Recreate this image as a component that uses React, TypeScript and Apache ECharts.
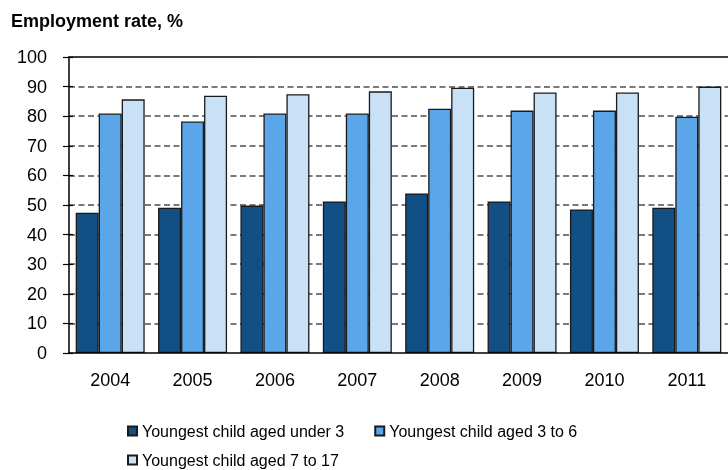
import React, { useEffect, useRef } from "react";
import * as echarts from "echarts";

const years = ["2004", "2005", "2006", "2007", "2008", "2009", "2010", "2011"];
const under3 = [47.4, 49.1, 49.8, 51.2, 53.9, 51.2, 48.5, 49.1];
const aged3to6 = [80.9, 78.2, 80.9, 80.9, 82.5, 81.9, 81.9, 79.8];
const aged7to17 = [85.7, 86.9, 87.4, 88.4, 89.6, 88.0, 88.0, 90.0];
const seriesNames = [
  "Youngest child aged under 3",
  "Youngest child aged 3 to 6",
  "Youngest child aged 7 to 17",
];
const colors = ["#124f85", "#5ba6e8", "#c9e1f7"];

export default function App() {
  const ref = useRef<HTMLDivElement>(null);
  useEffect(() => {
    document.body.style.margin = "0";
    const chart = echarts.init(ref.current!, null, { renderer: "svg" });
    const font = "'Liberation Sans', Arial, sans-serif";
    const values = [under3, aged3to6, aged7to17];
    const gridColors = [
      "rgba(0,0,0,0)",
      "#7a7a7a", "#7a7a7a", "#7a7a7a", "#7a7a7a", "#7a7a7a",
      "#7a7a7a", "#7a7a7a", "#7a7a7a", "#7a7a7a",
      "rgba(0,0,0,0)",
    ];
    chart.setOption({
      animation: false,
      textStyle: { fontFamily: font },
      title: {
        text: "Employment rate, %",
        left: 11,
        top: 12,
        padding: 0,
        textStyle: { fontSize: 18, fontWeight: "bold", color: "#000", fontFamily: font },
      },
      legend: [
        {
          data: [seriesNames[0], seriesNames[1]],
          left: 127,
          top: 423,
          padding: 0,
          itemWidth: 9,
          itemHeight: 9,
          itemGap: 30,
          icon: "rect",
          textStyle: { fontSize: 16, color: "#000", fontFamily: font },
        },
        {
          data: [seriesNames[2]],
          left: 127,
          top: 452,
          padding: 0,
          itemWidth: 9,
          itemHeight: 9,
          icon: "rect",
          textStyle: { fontSize: 16, color: "#000", fontFamily: font },
        },
      ],
      grid: { left: 69, top: 57, width: 662, height: 296 },
      xAxis: [
        {
          type: "category",
          data: years,
          z: 5,
          axisLine: { lineStyle: { color: "#000", width: 1.5 } },
          axisTick: { show: false },
          axisLabel: { fontSize: 18, color: "#000", margin: 18, fontFamily: font },
        },
        {
          type: "category",
          data: years,
          position: "top",
          z: 5,
          axisLine: { show: true, onZero: false, lineStyle: { color: "#000", width: 1.5 } },
          axisTick: { show: false },
          axisLabel: { show: false },
        },
      ],
      yAxis: [
        {
          type: "value",
          min: 0,
          max: 100,
          interval: 10,
          axisLine: { show: true, lineStyle: { color: "#000", width: 1.5 } },
          axisTick: { show: true, length: 6, lineStyle: { color: "#000", width: 1.2 } },
          axisLabel: { fontSize: 18, color: "#000", margin: 22, fontFamily: font },
          splitLine: {
            show: true,
            lineStyle: { color: gridColors, width: 2, type: [6, 3.5] },
          },
        },
        {
          type: "value",
          min: 0,
          max: 100,
          interval: 10,
          position: "left",
          axisLine: { show: false },
          axisTick: { show: true, inside: true, length: 4, lineStyle: { color: "#000", width: 1.2 } },
          axisLabel: { show: false },
          splitLine: { show: false },
        },
      ],
      series: seriesNames.map((name, i) => ({
        name,
        type: "bar",
        data: values[i],
        barWidth: 23,
        barGap: "0%",
        itemStyle: { color: colors[i], borderColor: "#1a1a1a", borderWidth: 1.3 },
      })),
    });
    return () => chart.dispose();
  }, []);
  return (
    <div
      ref={ref}
      style={{ position: "fixed", left: 0, top: 0, width: 728, height: 470 }}
    />
  );
}
